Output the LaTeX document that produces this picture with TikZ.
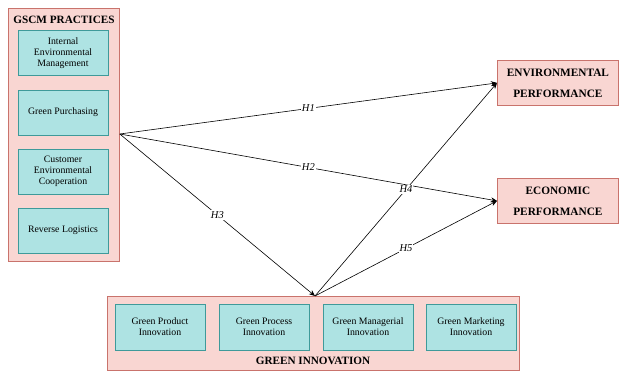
\documentclass[tikz,border=0pt]{standalone}
\usepackage{fontspec}
\setmainfont{Liberation Serif}
\usetikzlibrary{arrows.meta}
\definecolor{pinkfill}{HTML}{F9D6D2}
\definecolor{pinkline}{HTML}{C9736C}
\definecolor{cyanfill}{HTML}{AEE3E3}
\definecolor{cyanline}{HTML}{3F9A9A}
\tikzset{
  outerbox/.style={draw=pinkline, fill=pinkfill, line width=0.8pt},
  innerbox/.style={draw=cyanline, fill=cyanfill, line width=0.8pt, align=center,
    font=\fontsize{9.8}{11.2}\selectfont, inner sep=0pt},
  perfbox/.style={draw=pinkline, fill=pinkfill, line width=0.8pt, align=center,
    font=\fontsize{11.3}{21}\selectfont\bfseries, inner sep=0pt},
  title/.style={font=\fontsize{11.2}{12}\selectfont\bfseries, inner sep=0pt},
  hyp/.style={-{Stealth[length=6pt,width=5pt]}, line width=0.6pt},
  hlab/.style={font=\fontsize{10.5}{12}\selectfont\itshape, fill=white, inner sep=1pt}
}
\begin{document}
\begin{tikzpicture}[x=1pt,y=-1pt]
\useasboundingbox (0,0) rectangle (619,372);
% GSCM practices
\node[outerbox, minimum width=111pt, minimum height=253pt, anchor=north west] (gscm) at (8,8) {};
\node[title] (gscmt) at (64,20) {GSCM PRACTICES};
\node[innerbox, minimum width=90pt, minimum height=45pt] (iem) at (63,53) {Internal\\Environmental\\Management};
\node[innerbox, minimum width=90pt, minimum height=45pt] (gp) at (63,112.5) {Green Purchasing};
\node[innerbox, minimum width=90pt, minimum height=45pt] (cec) at (63,171.5) {Customer\\Environmental\\Cooperation};
\node[innerbox, minimum width=90pt, minimum height=45pt] (rl) at (63,230.5) {Reverse Logistics};
% performance
\node[perfbox, minimum width=121pt, minimum height=45pt, anchor=north west] (env) at (497,60) {ENVIRONMENTAL\\PERFORMANCE};
\node[perfbox, minimum width=121pt, minimum height=45pt, anchor=north west] (eco) at (497,178) {ECONOMIC\\PERFORMANCE};
% green innovation
\node[outerbox, minimum width=412pt, minimum height=74pt, anchor=north west] (gi) at (107,296) {};
\node[innerbox, minimum width=90pt, minimum height=46pt] (gpi) at (160,327) {Green Product\\Innovation};
\node[innerbox, minimum width=90pt, minimum height=46pt] (gpri) at (264,327) {Green Process\\Innovation};
\node[innerbox, minimum width=90pt, minimum height=46pt] (gmi) at (368,327) {Green Managerial\\Innovation};
\node[innerbox, minimum width=90pt, minimum height=46pt] (gmki) at (471,327) {Green Marketing\\Innovation};
\node[title] (git) at (313,361) {GREEN INNOVATION};
% connectors
\coordinate (src) at (gscm.east |- 0,134);
\coordinate (gitop) at (315,296);
\draw[hyp] (src) -- node[hlab, pos=0.5] {H1} (env.west);
\draw[hyp] (src) -- node[hlab, pos=0.5] {H2} (eco.west);
\draw[hyp] (src) -- node[hlab, pos=0.5] {H3} (gitop);
\draw[hyp] (gitop) -- node[hlab, pos=0.5] {H4} (env.west);
\draw[hyp] (gitop) -- node[hlab, pos=0.5] {H5} (eco.west);
\end{tikzpicture}
\end{document}
